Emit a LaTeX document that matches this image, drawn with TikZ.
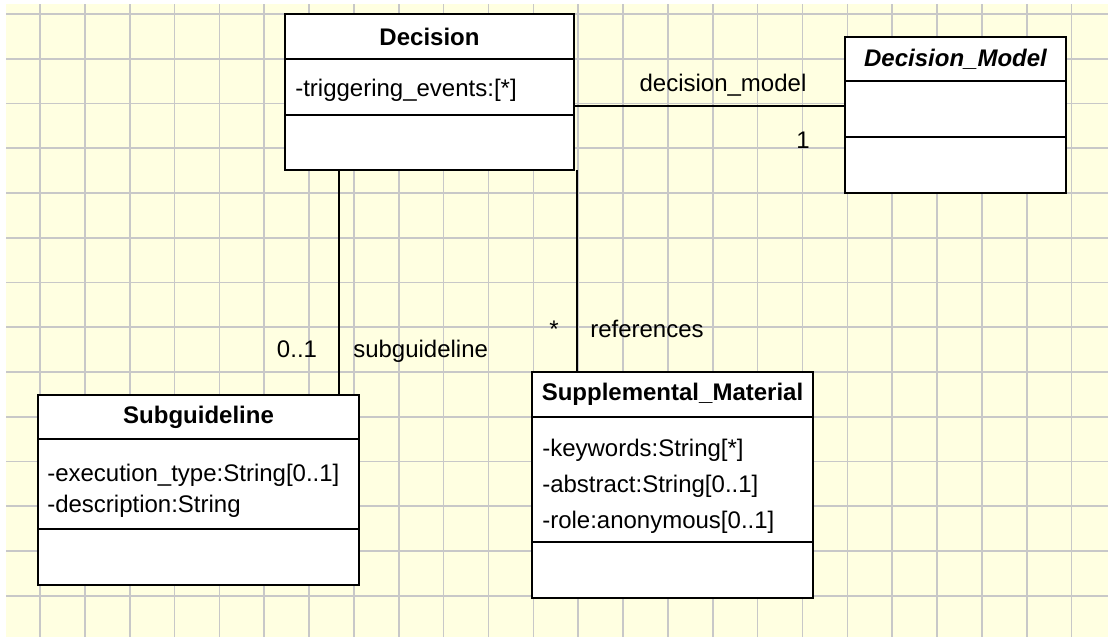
\documentclass[tikz,border=0pt]{standalone}
\usepackage{fontspec}
\setmainfont{Liberation Sans}
\usetikzlibrary{positioning}
\definecolor{paper}{RGB}{255,255,225}
\definecolor{gridgray}{RGB}{200,200,200}
\tikzset{
  compart/.style={draw=black, line width=1.4pt, fill=white, inner sep=0pt, outer sep=0pt, anchor=north west},
  attr/.style={anchor=base west, inner sep=0pt},
  lbl/.style={anchor=base, inner sep=0pt},
  assoc/.style={line width=1.1pt},
  gridline/.style={draw=gridgray, line width=1.2pt}
}
\begin{document}
\begin{tikzpicture}[x=0.75pt, y=-0.75pt, font=\fontsize{18}{22}\selectfont]
\useasboundingbox (0,0) rectangle (1108,637);
\fill[white] (0,0) rectangle (1108,637);
\fill[paper] (6,4) rectangle (1108,637);
% grid
\foreach \i in {0,...,23}
  \draw[gridline] ({40+44.85*\i},4) -- ({40+44.85*\i},637);
\foreach \j in {0,...,13}
  \draw[gridline] (6,{14+44.75*\j}) -- (1108,{14+44.75*\j});
% Decision
\node[compart, minimum width=216.75pt, minimum height=33.75pt] (decname) at (285,14) {\bfseries Decision};
\node[compart, minimum width=216.75pt, minimum height=42pt] (decattr) at (decname.south west) {};
\node[compart, minimum width=216.75pt, minimum height=41.25pt] (decops) at (decattr.south west) {};
\node[attr] (dectrig) at (295,96) {-triggering\_events:[*]};
% Decision_Model
\node[compart, minimum width=165.75pt, minimum height=33pt] (dmname) at (845,37) {\bfseries\itshape Decision\_Model};
\node[compart, minimum width=165.75pt, minimum height=42pt] (dmattr) at (dmname.south west) {};
\node[compart, minimum width=165.75pt, minimum height=42pt] (dmops) at (dmattr.south west) {};
% Subguideline
\node[compart, minimum width=240.75pt, minimum height=33pt] (subname) at (38,395) {\bfseries Subguideline};
\node[compart, minimum width=240.75pt, minimum height=67.5pt] (subattr) at (subname.south west) {};
\node[compart, minimum width=240.75pt, minimum height=42pt] (subops) at (subattr.south west) {};
\node[attr] (subexec) at (47,481) {-execution\_type:String[0..1]};
\node[attr] (subdesc) at (47,512) {-description:String};
% Supplemental_Material
\node[compart, minimum width=210.75pt, minimum height=33.75pt] (supname) at (532,372) {\bfseries Supplemental\_Material};
\node[compart, minimum width=210.75pt, minimum height=93.75pt] (supattr) at (supname.south west) {};
\node[compart, minimum width=210.75pt, minimum height=42pt] (supops) at (supattr.south west) {};
\node[attr] (supkey) at (542,456) {-keywords:String[*]};
\node[attr] (supabs) at (542,492) {-abstract:String[0..1]};
\node[attr] (suprole) at (542,528) {-role:anonymous[0..1]};
% associations
\draw[assoc] ([yshift=2.25pt]dmattr.west -| decattr.east) -- ([yshift=2.25pt]dmattr.west);
\draw[assoc] ([xshift=40.5pt]decops.south west) -- ([xshift=40.5pt]decops.south west |- subname.north);
\draw[assoc] ([xshift=2.25pt]decops.south east) -- ([xshift=2.25pt]decops.south east |- supname.north);
\node[lbl] (dmrole) at (723,91) {decision\_model};
\node[lbl] (dmmult) at (803,148) {1};
\node[lbl] (submult) at (297,357) {0..1};
\node[attr] (subrole) at (353,357) {subguideline};
\node[lbl] (supmult) at (554,337) {*};
\node[attr] (suprefs) at (590,337) {references};
\end{tikzpicture}
\end{document}
